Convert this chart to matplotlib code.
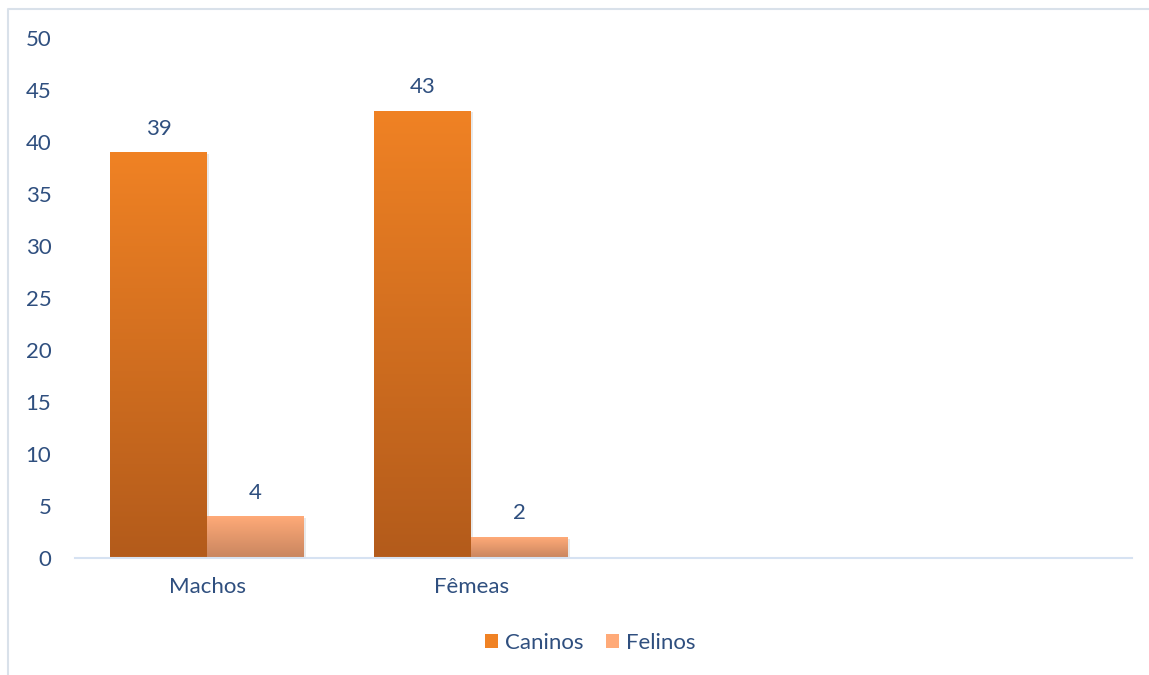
import numpy as np
import matplotlib
matplotlib.use("Agg")
import matplotlib.pyplot as plt
import matplotlib.patheffects as pe
from matplotlib.colors import LinearSegmentedColormap
from matplotlib.lines import Line2D
from matplotlib.patches import Patch

plt.rcParams['font.family'] = ['Lato', 'DejaVu Sans']

categorias = ['Machos', 'Fêmeas', '', '']
caninos = [39, 43, None, None]
felinos = [4, 2, None, None]
series = ['Caninos', 'Felinos']

cor_texto = '#2F4F7F'
cor_eixo = '#D6E2F2'
# gradiente (topo, base) de cada série
grad_caninos = ('#F08224', '#B35B1B')
grad_felinos = ('#FFAA78', '#C8855F')
fs = 16

fig = plt.figure(figsize=(11.49, 6.75), dpi=100)
ax = fig.add_axes([75 / 1149, 1 - 558 / 675, (1132 - 75) / 1149, (558 - 38) / 675])

x = np.arange(len(categorias))
w = 0.367


def barras_gradiente(pos, vals, cores):
    cmap = LinearSegmentedColormap.from_list('g', [cores[1], cores[0]])
    grad = np.linspace(0, 1, 256).reshape(-1, 1)
    for xi, v in zip(pos, vals):
        if v is None:
            continue
        sombra = ax.bar(xi, v, w, color='white', edgecolor='none', zorder=1)[0]
        sombra.set_path_effects([pe.SimplePatchShadow(offset=(1.2, -1.2), alpha=0.12), pe.Normal()])
        b = ax.bar(xi, v, w, color='none', edgecolor='none')[0]
        img = ax.imshow(grad, cmap=cmap, aspect='auto', origin='lower',
                        extent=[xi - w / 2, xi + w / 2, 0, v], zorder=2)
        img.set_clip_path(b)
        ax.annotate(str(v), (xi, v), xytext=(0, 10), textcoords='offset points',
                    ha='center', va='bottom', fontsize=fs, color=cor_texto)


barras_gradiente(x - w / 2, caninos, grad_caninos)
barras_gradiente(x + w / 2, felinos, grad_felinos)

ax.set_xlim(-0.5, len(categorias) - 0.5)
ax.set_ylim(0, 50)
ax.set_yticks(range(0, 51, 5))
ax.set_xticks(x)
ax.set_xticklabels(categorias)
ax.tick_params(length=0, labelsize=fs, labelcolor=cor_texto)
ax.tick_params(axis='y', pad=17)
ax.tick_params(axis='x', pad=14)
for s in ['top', 'right', 'left']:
    ax.spines[s].set_visible(False)
ax.spines['bottom'].set_color(cor_eixo)
ax.spines['bottom'].set_linewidth(1.5)
ax.spines['bottom'].set_zorder(3)

handles = [Patch(facecolor=grad_caninos[0], edgecolor='none'),
           Patch(facecolor=grad_felinos[0], edgecolor='none')]
fig.legend(handles, series, loc='center', bbox_to_anchor=(590 / 1149, 1 - 643 / 675),
           ncol=2, frameon=False, fontsize=fs, labelcolor=cor_texto,
           handlelength=0.6, handleheight=0.6, handletextpad=0.3, columnspacing=1.0)

# moldura da área do gráfico
fig.add_artist(Line2D([8 / 1149, 8 / 1149, 1], [0, 1 - 9 / 675, 1 - 9 / 675],
                      transform=fig.transFigure, color='#D9E1EA', lw=1.5))

fig.savefig('out.png', dpi=100)
